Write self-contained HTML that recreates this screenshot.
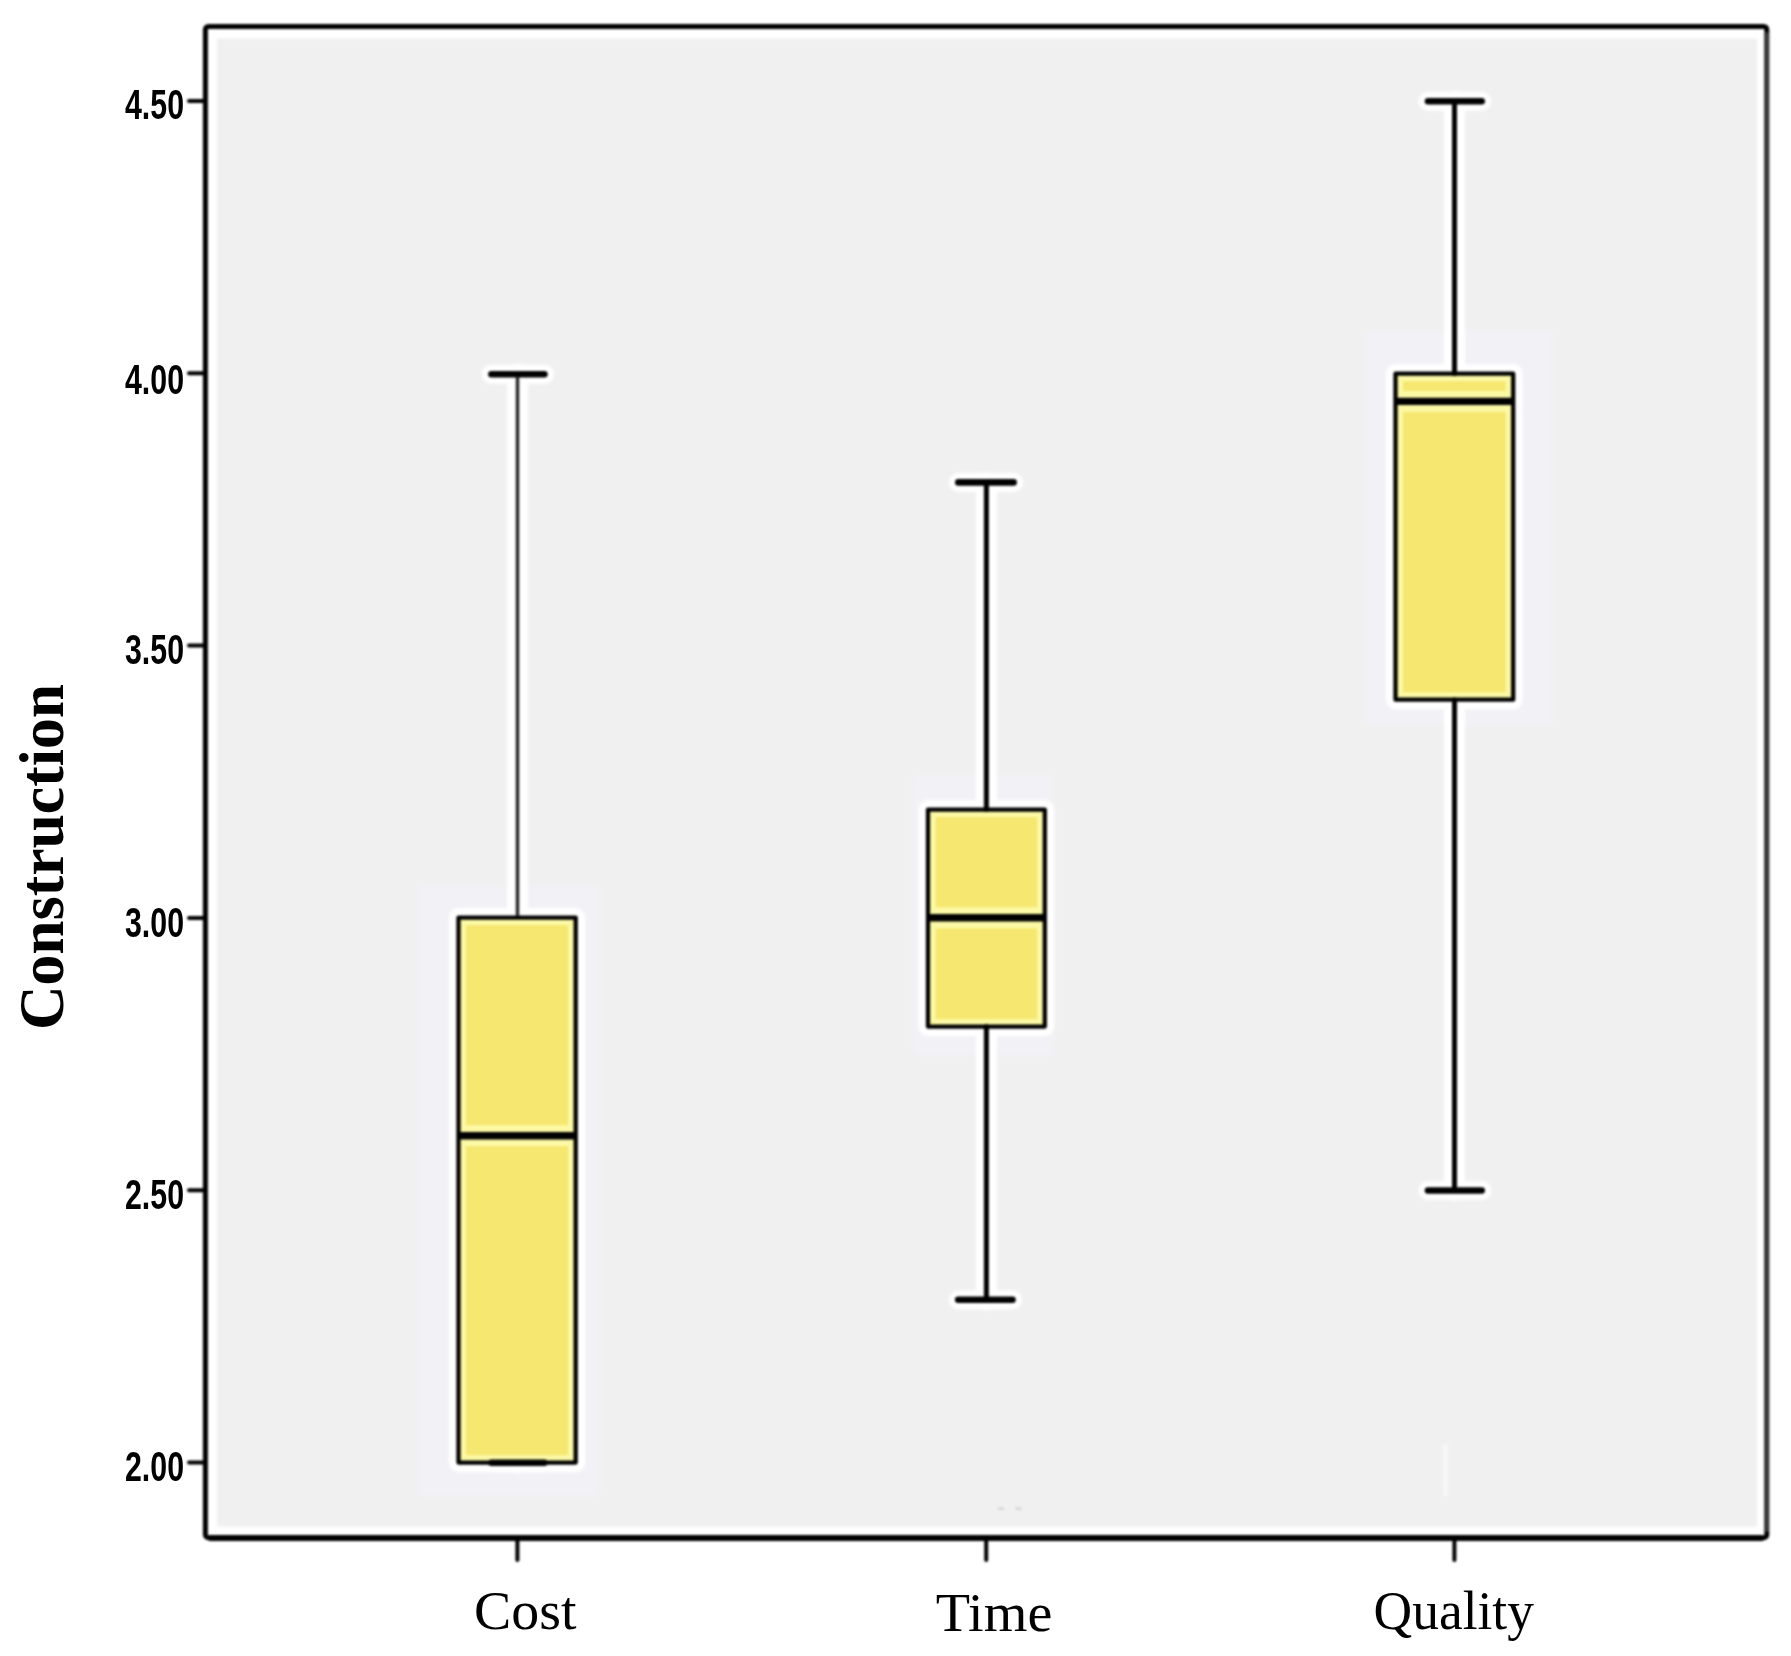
<!DOCTYPE html>
<html>
<head>
<meta charset="utf-8">
<style>
html,body{margin:0;padding:0;background:#fff;}
body{width:1791px;height:1656px;overflow:hidden;}
svg{display:block;}
</style>
</head>
<body>
<svg width="1791" height="1656" viewBox="0 0 1791 1656">
<defs>
<filter id="soft" x="-5%" y="-5%" width="110%" height="110%"><feGaussianBlur stdDeviation="2.5"/></filter>
<filter id="halo" x="-50%" y="-50%" width="200%" height="200%"><feGaussianBlur stdDeviation="1.6"/></filter>
<filter id="bl" x="-20%" y="-20%" width="140%" height="140%"><feGaussianBlur stdDeviation="0.7"/></filter>
<filter id="g15" x="-5%" y="-5%" width="110%" height="110%"><feGaussianBlur stdDeviation="1.5"/></filter>
<filter id="bl12" x="-5%" y="-5%" width="110%" height="110%"><feGaussianBlur stdDeviation="1.2"/></filter>
<filter id="bl1" x="-20%" y="-20%" width="140%" height="140%"><feGaussianBlur stdDeviation="1"/></filter>
<filter id="tb" x="-20%" y="-20%" width="140%" height="140%"><feGaussianBlur stdDeviation="0.6"/></filter>
</defs>
<rect x="0" y="0" width="1791" height="1656" fill="#ffffff"/>
<rect x="217" y="38.5" width="1540" height="1488" fill="#f0f0f0" filter="url(#g15)"/>
<g fill="#f2f1f6" filter="url(#soft)">
<rect x="418" y="886" width="182" height="610"/>
<rect x="913" y="775" width="140" height="280"/>
<rect x="1366" y="331" width="186" height="394"/>
</g>
<g filter="url(#bl1)"><ellipse cx="1001" cy="1508.5" rx="3.5" ry="1.6" fill="#d9d9d9"/><ellipse cx="1018.5" cy="1508.5" rx="3.5" ry="1.6" fill="#d9d9d9"/><rect x="1443" y="1444" width="5" height="52" fill="#f7f7f7"/></g>
<g fill="none" stroke="#ffffff" stroke-linecap="round" stroke-linejoin="round" filter="url(#halo)">
<line x1="517.5" y1="374.2" x2="517.5" y2="1462.8" stroke-width="21"/>
<line x1="491.4" y1="374.2" x2="544.4" y2="374.2" stroke-width="19"/>
<line x1="491.4" y1="1462.8" x2="544.4" y2="1462.8" stroke-width="19"/>
<rect x="458.5" y="917.6" width="117.2" height="545.0" stroke-width="19"/>
<line x1="986.4" y1="482.4" x2="986.4" y2="1299.8" stroke-width="21"/>
<line x1="958.3" y1="482.4" x2="1013.6" y2="482.4" stroke-width="19"/>
<line x1="958.2" y1="1299.8" x2="1012.5" y2="1299.8" stroke-width="19"/>
<rect x="928.0" y="809.6" width="116.8" height="217.0" stroke-width="19"/>
<line x1="1454.5" y1="101.2" x2="1454.5" y2="1190.5" stroke-width="21"/>
<line x1="1428.0" y1="101.2" x2="1481.7" y2="101.2" stroke-width="19"/>
<line x1="1428.0" y1="1190.5" x2="1481.7" y2="1190.5" stroke-width="19"/>
<rect x="1395.5" y="373.7" width="117.7" height="326.0" stroke-width="19"/>
</g>
<g stroke="none">
<rect x="458.5" y="917.6" width="117.2" height="545.0" fill="#fcf9a6"/>
<rect x="466.0" y="925.1" width="102.2" height="200.1" fill="#f6e770" filter="url(#bl1)"/>
<rect x="466.0" y="1146.2" width="102.2" height="308.9" fill="#f6e770" filter="url(#bl1)"/>
<rect x="928.0" y="809.6" width="116.8" height="217.0" fill="#fcf9a6"/>
<rect x="935.5" y="817.1" width="101.8" height="90.2" fill="#f6e770" filter="url(#bl1)"/>
<rect x="935.5" y="928.3" width="101.8" height="90.8" fill="#f6e770" filter="url(#bl1)"/>
<rect x="1395.5" y="373.7" width="117.7" height="326.0" fill="#fcf9a6"/>
<rect x="1403.0" y="381.2" width="102.7" height="9.7" fill="#f6e770" filter="url(#bl1)"/>
<rect x="1403.0" y="411.9" width="102.7" height="280.3" fill="#f6e770" filter="url(#bl1)"/>
</g>
<g fill="none" stroke="#000" stroke-linecap="round" stroke-linejoin="round" filter="url(#bl1)">
<line x1="517.5" y1="374.2" x2="517.5" y2="917.6" stroke-width="3.5" stroke="#262626"/>
<line x1="491.4" y1="374.2" x2="544.4" y2="374.2" stroke-width="6.6"/>
<line x1="491.4" y1="1462.8" x2="544.4" y2="1462.8" stroke-width="6.6"/>
<rect x="458.5" y="917.6" width="117.2" height="545.0" stroke-width="4.3" stroke="#050505"/>
<line x1="459.0" y1="1135.7" x2="575.2" y2="1135.7" stroke-width="7.4" stroke-linecap="butt"/>
<line x1="986.4" y1="482.4" x2="986.4" y2="809.6" stroke-width="5" stroke="#000"/>
<line x1="986.4" y1="1026.6" x2="986.4" y2="1299.8" stroke-width="5" stroke="#000"/>
<line x1="958.3" y1="482.4" x2="1013.6" y2="482.4" stroke-width="6.6"/>
<line x1="958.2" y1="1299.8" x2="1012.5" y2="1299.8" stroke-width="6.6"/>
<rect x="928.0" y="809.6" width="116.8" height="217.0" stroke-width="4.3" stroke="#050505"/>
<line x1="928.5" y1="917.8" x2="1044.3" y2="917.8" stroke-width="7.4" stroke-linecap="butt"/>
<line x1="1454.5" y1="101.2" x2="1454.5" y2="373.7" stroke-width="5" stroke="#000"/>
<line x1="1454.5" y1="699.7" x2="1454.5" y2="1190.5" stroke-width="5" stroke="#000"/>
<line x1="1428.0" y1="101.2" x2="1481.7" y2="101.2" stroke-width="6.6"/>
<line x1="1428.0" y1="1190.5" x2="1481.7" y2="1190.5" stroke-width="6.6"/>
<rect x="1395.5" y="373.7" width="117.7" height="326.0" stroke-width="4.3" stroke="#050505"/>
<line x1="1396.0" y1="401.4" x2="1512.7" y2="401.4" stroke-width="7.4" stroke-linecap="butt"/>
</g>
<g fill="none" stroke="#000" filter="url(#bl12)">
<rect x="205.4" y="26.5" width="1561.4" height="1511.2" rx="3" stroke-width="5"/>
<line x1="1766.8" y1="33" x2="1766.8" y2="1531" stroke-width="4.6" stroke="#3a3a3a"/>
<line x1="209" y1="1537.9" x2="1763" y2="1537.9" stroke-width="6"/>
<g stroke-width="4" stroke-linecap="round">
<line x1="189" y1="101.0" x2="205" y2="101.0"/>
<line x1="189" y1="373.3" x2="205" y2="373.3"/>
<line x1="189" y1="645.6" x2="205" y2="645.6"/>
<line x1="189" y1="917.9" x2="205" y2="917.9"/>
<line x1="189" y1="1190.2" x2="205" y2="1190.2"/>
<line x1="189" y1="1462.5" x2="205" y2="1462.5"/>
<line x1="517.4" y1="1538" x2="517.4" y2="1560"/>
<line x1="986.2" y1="1538" x2="986.2" y2="1560"/>
<line x1="1454.4" y1="1538" x2="1454.4" y2="1560"/>
</g>
</g>
<g font-family="Liberation Sans, sans-serif" font-weight="bold" font-size="42" fill="#000" text-anchor="end" filter="url(#tb)">
<text x="184" y="119.0" textLength="59" lengthAdjust="spacingAndGlyphs">4.50</text>
<text x="184" y="393.6" textLength="59" lengthAdjust="spacingAndGlyphs">4.00</text>
<text x="184" y="664.1" textLength="59" lengthAdjust="spacingAndGlyphs">3.50</text>
<text x="184" y="936.6" textLength="59" lengthAdjust="spacingAndGlyphs">3.00</text>
<text x="184" y="1209.0" textLength="59" lengthAdjust="spacingAndGlyphs">2.50</text>
<text x="184" y="1481.0" textLength="59" lengthAdjust="spacingAndGlyphs">2.00</text>
</g>
<g font-family="Liberation Serif, serif" font-size="55" fill="#000">
<text x="474" y="1629" textLength="102.5" lengthAdjust="spacingAndGlyphs">Cost</text>
<text x="935.8" y="1631" textLength="116.5" lengthAdjust="spacingAndGlyphs">Time</text>
<text x="1373.5" y="1628.5" textLength="160.5" lengthAdjust="spacingAndGlyphs">Quality</text>
</g>
<text transform="translate(63,1030) rotate(-90)" font-family="Liberation Serif, serif" font-weight="bold" font-size="64" fill="#000" textLength="346" lengthAdjust="spacingAndGlyphs">Construction</text>
</svg>
</body>
</html>
